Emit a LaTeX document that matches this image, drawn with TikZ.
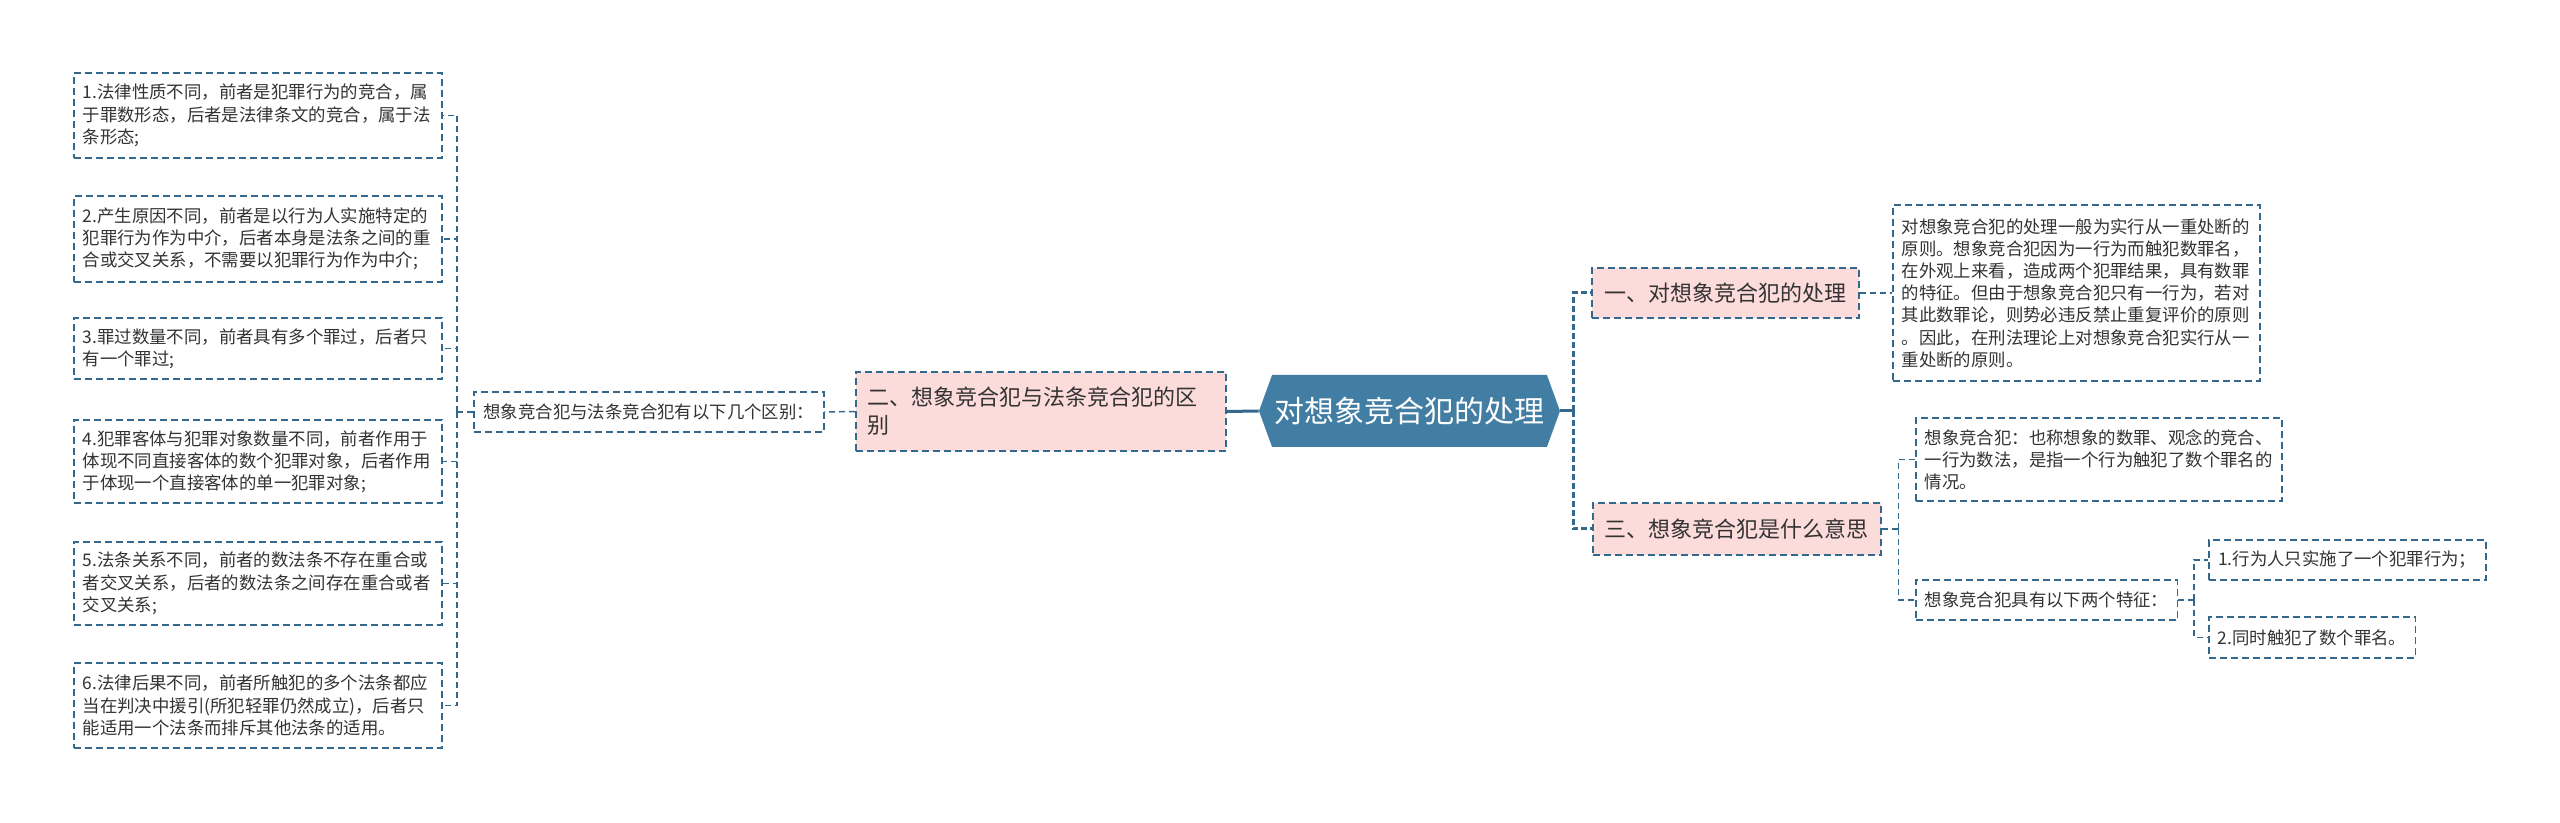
\documentclass[tikz,border=0pt]{standalone}
\usepackage{fontspec}
\setmainfont{Noto Sans CJK SC}
\usepackage{tikz}
\usetikzlibrary{shapes.symbols}

\definecolor{linecol}{RGB}{52,104,140}
\definecolor{hexfill}{RGB}{66,125,163}
\definecolor{pinkfill}{RGB}{252,219,219}
\definecolor{textcol}{RGB}{51,51,51}

\newcommand{\leaffont}{\fontsize{8.7pt}{11.1pt}\selectfont}
\newcommand{\topicfont}{\fontsize{11pt}{14pt}\selectfont}
\newcommand{\rootfont}{\fontsize{15pt}{18pt}\selectfont}

\begin{document}
\begin{tikzpicture}[%
  x=0.5pt, y=-0.5pt,
  leaf/.style={draw=linecol, line width=0.75pt, dash pattern=on 3.5pt off 2pt,
    fill=white, text=textcol, font=\leaffont, align=left, anchor=west,
    inner xsep=4.5pt, inner ysep=3pt},
  topic/.style={leaf, fill=pinkfill, font=\topicfont, inner xsep=5pt},
  root/.style={shape=signal, signal to=west and east, signal pointer angle=140,
    fill=hexfill, text=white, font=\rootfont, minimum width=150.5pt,
    minimum height=36pt, inner xsep=0pt},
  link/.style={draw=linecol, line width=0.75pt, dash pattern=on 3pt off 2pt},
  trunk/.style={draw=linecol, line width=1.5pt, dash pattern=on 3pt off 1.5pt},
  rootlink/.style={draw=linecol, line width=1.5pt}]

  \useasboundingbox[fill=white] (0,0) rectangle (2560,823);

  \node[root] (root) at (1409.5,411) {对想象竞合犯的处理};

  % left side
  \node[topic, text width=173pt, minimum height=39.5pt, inner xsep=6pt] (two) at (855,411.5)
    {二、想象竞合犯与法条竞合犯的区\\别};
  \node[leaf, minimum width=175pt, minimum height=20pt] (diff) at (473,412)
    {想象竞合犯与法条竞合犯有以下几个区别：};
  \node[leaf, text width=175pt, minimum height=42.5pt] (diff1) at (73,115.5)
    {1.法律性质不同，前者是犯罪行为的竞合，属\\于罪数形态，后者是法律条文的竞合，属于法\\条形态;};
  \node[leaf, text width=175pt, minimum height=43pt] (diff2) at (73,239)
    {2.产生原因不同，前者是以行为人实施特定的\\犯罪行为作为中介，后者本身是法条之间的重\\合或交叉关系，不需要以犯罪行为作为中介;};
  \node[leaf, text width=175pt, minimum height=30.5pt] (diff3) at (73,348.5)
    {3.罪过数量不同，前者具有多个罪过，后者只\\有一个罪过;};
  \node[leaf, text width=175pt, minimum height=41.5pt] (diff4) at (73,461.5)
    {4.犯罪客体与犯罪对象数量不同，前者作用于\\体现不同直接客体的数个犯罪对象，后者作用\\于体现一个直接客体的单一犯罪对象;};
  \node[leaf, text width=175pt, minimum height=41.5pt] (diff5) at (73,583.5)
    {5.法条关系不同，前者的数法条不存在重合或\\者交叉关系，后者的数法条之间存在重合或者\\交叉关系;};
  \node[leaf, text width=175pt, minimum height=42.5pt] (diff6) at (73,705.5)
    {6.法律后果不同，前者所触犯的多个法条都应\\当在判决中援引(所犯轻罪仍然成立)，后者只\\能适用一个法条而排斥其他法条的适用。};

  % right side
  \node[topic, minimum width=133.5pt, minimum height=25pt] (one) at (1591,293)
    {一、对想象竞合犯的处理};
  \node[leaf, text width=174.5pt, minimum height=88pt] (detail) at (1892,293)
    {对想象竞合犯的处理一般为实行从一重处断的\\原则。想象竞合犯因为一行为而触犯数罪名，\\在外观上来看，造成两个犯罪结果，具有数罪\\的特征。但由于想象竞合犯只有一行为，若对\\其此数罪论，则势必违反禁止重复评价的原则\\。因此，在刑法理论上对想象竞合犯实行从一\\重处断的原则。};
  \node[topic, minimum width=144pt, minimum height=26pt] (three) at (1592,529)
    {三、想象竞合犯是什么意思};
  \node[leaf, text width=174pt, minimum height=41.5pt] (def) at (1915,459.5)
    {想象竞合犯：也称想象的数罪、观念的竞合、\\一行为数法，是指一个行为触犯了数个罪名的\\情况。};
  \node[leaf, minimum width=130.5pt, minimum height=20pt] (feat) at (1915,600)
    {想象竞合犯具有以下两个特征：};
  \node[leaf, minimum width=138.5pt, minimum height=20pt] (feat1) at (2208,560)
    {1.行为人只实施了一个犯罪行为；};
  \node[leaf, minimum width=103pt, minimum height=20.5pt] (feat2) at (2208,637.5)
    {2.同时触犯了数个罪名。};

  % connectors
  \draw[rootlink] (root.west) -- (two.east);
  \draw[link] (two.west) -- (diff.east);
  \draw[link] (diff.west) -- ++(-8pt,0) coordinate (lj);
  \foreach \i in {1,...,6}
    \draw[link] (lj) |- (diff\i.east);

  \draw[rootlink] (root.east) -- ++(6.5pt,0) coordinate (rj);
  \draw[trunk] (rj) |- (one.west);
  \draw[trunk] (rj) |- (three.west);
  \draw[link] (one.east) -- (detail.west);
  \draw[link] (three.east) -- ++(8.5pt,0) coordinate (tj);
  \draw[link] (tj) |- (def.west);
  \draw[link] (tj) |- (feat.west);
  \draw[link] (feat.east) -- ++(8pt,0) coordinate (fj);
  \draw[link] (fj) |- (feat1.west);
  \draw[link] (fj) |- (feat2.west);
\end{tikzpicture}
\end{document}
